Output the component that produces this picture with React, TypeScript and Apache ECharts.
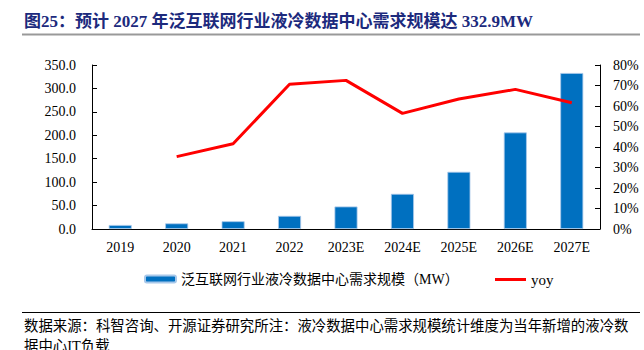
import React, { useEffect, useRef } from "react";
import * as echarts from "echarts";

const categories = ["2019", "2020", "2021", "2022", "2023E", "2024E", "2025E", "2026E", "2027E"];
const demandMW = [8.5, 12, 16.5, 28, 48, 75, 122, 206, 332.9];
const yoyPct = [null, 35.3, 41.6, 70.6, 72.5, 56.4, 63.4, 68.1, 61.6];
const barName = "泛互联网行业液冷数据中心需求规模（MW）";
const lineName = "yoy";
const titleText = "图25：预计 2027 年泛互联网行业液冷数据中心需求规模达 332.9MW";
const sourceLine1 = "数据来源：科智咨询、开源证券研究所注：液冷数据中心需求规模统计维度为当年新增的液冷数";
const sourceLine2 = "据中心IT负载";

const FONT = "'Liberation Serif', 'Noto Sans CJK SC', serif";

export default function App() {
  const ref = useRef<HTMLDivElement>(null);
  useEffect(() => {
    if (!ref.current) return;
    const chart = echarts.init(ref.current, undefined, { renderer: "svg" });
    chart.setOption({
      animation: false,
      backgroundColor: "#fff",
      grid: { left: 92, right: 44, top: 65, bottom: 121 },
      legend: [
        {
          data: [barName],
          left: 139,
          top: 267,
          itemWidth: 31,
          itemHeight: 7,
          itemGap: 5,
          textStyle: { fontFamily: FONT, fontSize: 14, color: "#000" },
        },
        {
          data: [{ name: lineName, icon: "rect" }],
          left: 490,
          top: 267,
          itemWidth: 31,
          itemHeight: 3,
          textStyle: { fontFamily: FONT, fontSize: 15, color: "#000" },
        },
      ],
      xAxis: {
        type: "category",
        data: categories,
        axisLine: { lineStyle: { color: "#000", width: 1 } },
        axisTick: { inside: true, length: 4, lineStyle: { color: "#000" } },
        axisLabel: { fontFamily: FONT, fontSize: 14, color: "#000", margin: 11 },
      },
      yAxis: [
        {
          type: "value",
          min: 0,
          max: 350,
          interval: 50,
          axisLine: { show: true, lineStyle: { color: "#000", width: 1 } },
          axisTick: { show: true, inside: true, length: 5, lineStyle: { color: "#000" } },
          splitLine: { show: false },
          axisLabel: {
            fontFamily: FONT,
            fontSize: 14,
            color: "#000",
            margin: 16,
            formatter: (v: number) => v.toFixed(1),
          },
        },
        {
          type: "value",
          min: 0,
          max: 80,
          interval: 10,
          position: "right",
          axisLine: { show: true, lineStyle: { color: "#000", width: 1 } },
          axisTick: { show: true, inside: true, length: 5, lineStyle: { color: "#000" } },
          splitLine: { show: false },
          axisLabel: {
            fontFamily: FONT,
            fontSize: 14,
            color: "#000",
            margin: 13,
            formatter: "{value}%",
          },
        },
      ],
      series: [
        {
          name: barName,
          type: "bar",
          data: demandMW,
          barWidth: 23,
          itemStyle: { color: "#0070C0", borderColor: "#a8c8ea", borderWidth: 0.8 },
        },
        {
          name: lineName,
          type: "line",
          yAxisIndex: 1,
          data: yoyPct,
          symbol: "none",
          lineStyle: { color: "#FF0000", width: 3 },
          itemStyle: { color: "#FF0000" },
        },
      ],
      graphic: [
        {
          type: "text",
          left: 24,
          top: 13,
          style: {
            text: titleText,
            fontFamily: FONT,
            fontSize: 17,
            fontWeight: "bold",
            fill: "#1c2a7d",
          },
        },
        {
          type: "line",
          shape: { x1: 22, y1: 34.5, x2: 640, y2: 34.5 },
          style: { stroke: "#999", lineWidth: 2 },
        },
        {
          type: "line",
          shape: { x1: 22, y1: 312.5, x2: 640, y2: 312.5 },
          style: { stroke: "#000", lineWidth: 1.2 },
        },
        {
          type: "text",
          left: 24,
          top: 319,
          style: { text: sourceLine1, fontFamily: FONT, fontSize: 14.4, fill: "#000" },
        },
        {
          type: "text",
          left: 24,
          top: 339,
          style: { text: sourceLine2, fontFamily: FONT, fontSize: 14.4, fill: "#000" },
        },
      ],
    });
    return () => chart.dispose();
  }, []);
  return (
    <div
      ref={ref}
      style={{ position: "fixed", left: 0, top: 0, width: 644, height: 350 }}
    />
  );
}
